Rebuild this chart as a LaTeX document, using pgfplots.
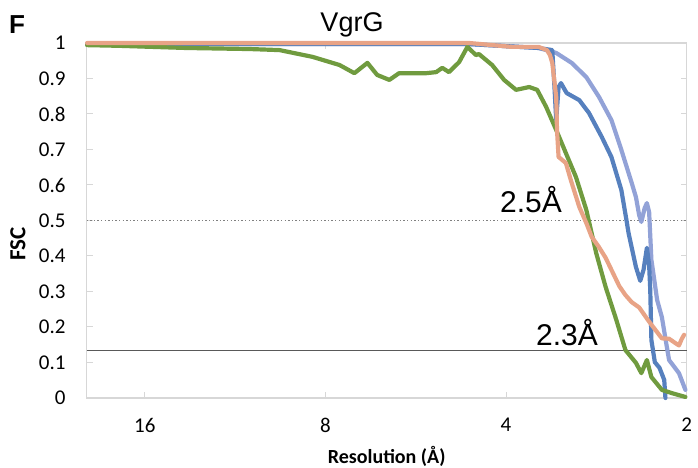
\documentclass[border=0pt]{standalone}
\usepackage{fontspec}
\setmainfont{Carlito}
\newfontfamily\arial{Liberation Sans}
\usepackage{pgfplots}
\pgfplotsset{compat=1.18}
\definecolor{cgreen}{RGB}{112,155,63}
\definecolor{corange}{RGB}{232,163,134}
\definecolor{cdblue}{RGB}{86,128,190}
\definecolor{clblue}{RGB}{146,162,215}
\definecolor{cframe}{RGB}{215,215,215}
\begin{document}
\begin{tikzpicture}
\useasboundingbox (0,0) rectangle (698pt,468pt);
\begin{axis}[
  at={(86.7pt,70pt)}, anchor=south west,
  scale only axis, width=600pt, height=355pt,
  xmode=log, x dir=reverse, xmin=2, xmax=20,
  ymin=0, ymax=1,
  clip=false,
  xtick={16,8,4,2}, xticklabels={16,8,4,2},
  ytick={0,0.1,0.2,0.3,0.4,0.5,0.6,0.7,0.8,0.9,1},
  yticklabels={0,0.1,0.2,0.3,0.4,0.5,0.6,0.7,0.8,0.9,1},
  minor tick num=0, log ticks with fixed point,
  /pgf/number format/assume math mode=true,
  tick align=inside, major tick length=6pt,
  tick style={draw=cframe, line width=1pt},
  axis line style={draw=cframe, line width=1.2pt},
  xticklabel style={font=\fontsize{21}{24}\selectfont, anchor=north, inner sep=0pt, yshift=-20pt},
  yticklabel style={font=\fontsize{21}{24}\selectfont, anchor=east, inner sep=0pt, xshift=-21pt},
  xlabel={Resolution (Å)},
  xlabel style={font=\bfseries\fontsize{20}{24}\selectfont, at={(axis description cs:0.5,0)}, anchor=center, yshift=-58pt},
]
% reference lines
\addplot[draw=gray, line width=1.4pt, dash pattern=on 1.4pt off 2.2pt] coordinates {(20,0.5) (2,0.5)};
\addplot[draw=black!65, line width=1.3pt] coordinates {(20,0.133) (2,0.133)};
% light blue
\addplot[draw=clblue, line width=4.2pt, line join=round, line cap=round] coordinates {
(19.97,0.997) (4.61,0.997) (3.53,0.986) (3.30,0.972) (3.11,0.944) (2.94,0.904) (2.80,0.848) (2.67,0.783) (2.57,0.699) (2.47,0.606) (2.43,0.566) (2.40,0.515) (2.38,0.496) (2.35,0.535) (2.33,0.549) (2.31,0.524) (2.29,0.389) (2.24,0.276) (2.20,0.228) (2.14,0.107) (2.06,0.070) (2.01,0.023)
};
% dark blue
\addplot[draw=cdblue, line width=4.2pt, line join=round, line cap=round] coordinates {
(19.97,0.997) (4.61,0.997) (3.53,0.986) (3.35,0.980) (3.32,0.868) (3.30,0.783) (3.27,0.876) (3.24,0.887) (3.17,0.859) (3.02,0.839) (2.91,0.803) (2.77,0.735) (2.67,0.679) (2.57,0.586) (2.52,0.501) (2.50,0.465) (2.43,0.369) (2.39,0.330) (2.36,0.361) (2.33,0.423) (2.31,0.375) (2.30,0.304) (2.29,0.163) (2.26,0.101) (2.22,0.085) (2.18,0.051) (2.17,0.0)
};
% green
\addplot[draw=cgreen, line width=4.2pt, line join=round, line cap=round] coordinates {
(19.97,0.994) (17.6,0.992) (13.67,0.986) (10.7,0.983) (9.54,0.980) (8.41,0.961) (7.58,0.938) (7.16,0.915) (6.81,0.944) (6.56,0.910) (6.26,0.896) (6.03,0.915) (5.43,0.915) (5.23,0.918) (5.11,0.930) (4.98,0.918) (4.79,0.946) (4.64,0.989) (4.49,0.966) (4.44,0.969) (4.22,0.938) (4.03,0.896) (3.85,0.868) (3.66,0.876) (3.55,0.868) (3.43,0.820) (3.30,0.755) (3.18,0.690) (3.06,0.623) (2.94,0.530) (2.83,0.408) (2.73,0.313) (2.62,0.220) (2.53,0.135) (2.43,0.099) (2.38,0.070) (2.33,0.107) (2.29,0.059) (2.20,0.023) (2.12,0.014) (2.06,0.008) (2.01,0.003)
};
% orange
\addplot[draw=corange, line width=4.2pt, line join=round, line cap=round] coordinates {
(19.97,1.0) (4.61,1.0) (3.91,0.989) (3.53,0.989) (3.42,0.980) (3.38,0.966) (3.35,0.944) (3.30,0.848) (3.29,0.755) (3.27,0.679) (3.18,0.662) (3.12,0.614) (3.02,0.538) (2.94,0.493) (2.88,0.454) (2.80,0.425) (2.73,0.395) (2.59,0.315) (2.53,0.29) (2.47,0.27) (2.40,0.255) (2.31,0.215) (2.20,0.168) (2.14,0.167) (2.09,0.155) (2.06,0.148) (2.04,0.165) (2.02,0.178)
};
\end{axis}
\node[font=\arial\fontsize{30}{32}\selectfont, anchor=base east, inner sep=0pt] at (562pt,255pt) {2.5Å};
\node[font=\arial\fontsize{30}{32}\selectfont, anchor=base east, inner sep=0pt] at (598pt,122pt) {2.3Å};
\node[font=\arial\fontsize{27}{30}\selectfont, anchor=base, inner sep=0pt] at (352pt,436pt) {VgrG};
\node[font=\arial\bfseries\fontsize{26}{28}\selectfont, anchor=base west, inner sep=0pt] at (9pt,434pt) {F};
\node[font=\bfseries\fontsize{23}{24}\selectfont, rotate=90, anchor=center, inner sep=0pt] at (18pt,224pt) {FSC};
\end{tikzpicture}
\end{document}
